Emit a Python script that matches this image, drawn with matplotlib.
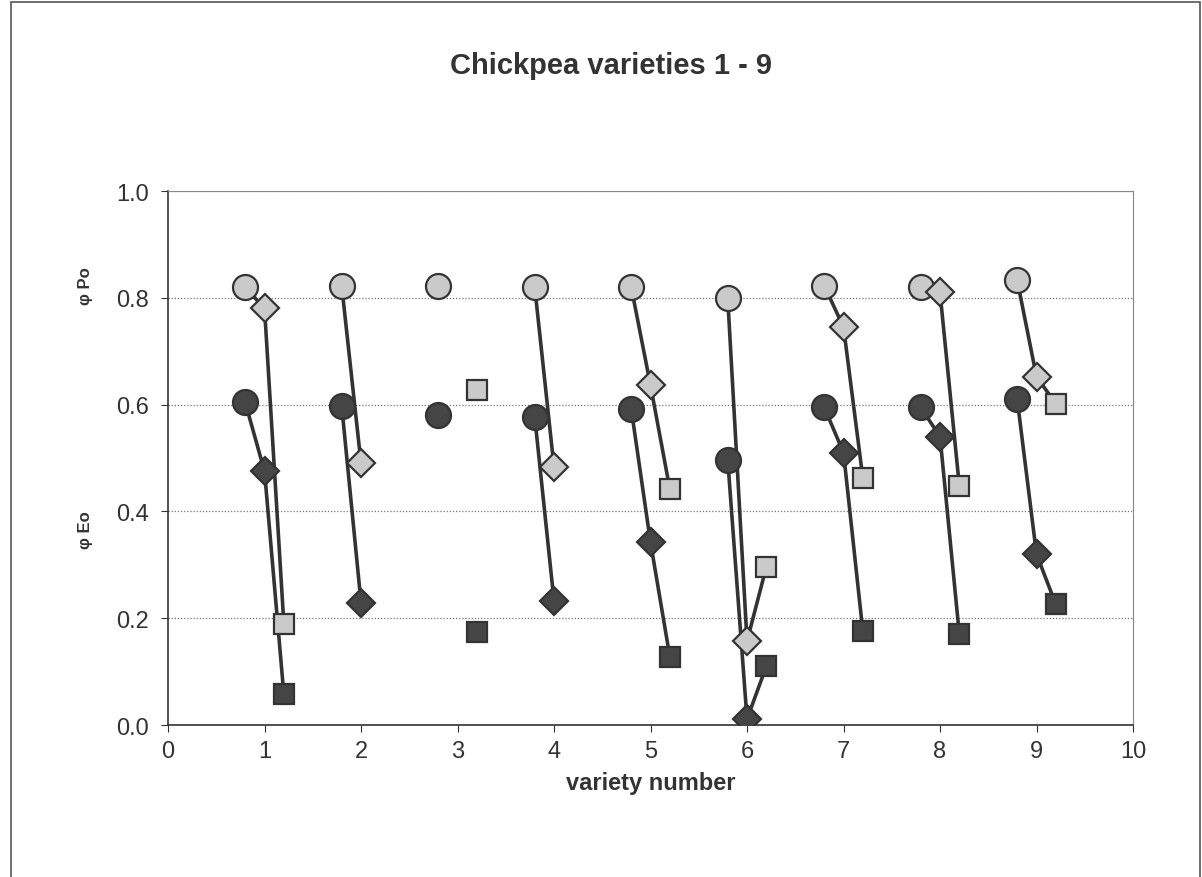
import numpy as np
import matplotlib
matplotlib.use("Agg")
import matplotlib.pyplot as plt
from matplotlib.patches import Rectangle

plt.rcParams['font.family'] = ['Liberation Sans', 'DejaVu Sans']

#variety numbers
varieties = [1, 2, 3, 4, 5, 6, 7, 8, 9]

#phi Po values (light markers): circle, diamond, square
po_circle = [0.82, 0.822, 0.822, 0.82, 0.82, 0.80, 0.823, 0.82, 0.833]
po_diamond = [0.78, 0.49, np.nan, 0.483, 0.636, 0.157, 0.745, 0.81, 0.652]
po_square = [0.19, np.nan, 0.628, np.nan, 0.442, 0.296, 0.463, 0.448, 0.602]

#phi Eo values (dark markers): circle, diamond, square
eo_circle = [0.604, 0.597, 0.58, 0.577, 0.592, 0.497, 0.595, 0.595, 0.61]
eo_diamond = [0.475, 0.229, np.nan, 0.232, 0.342, 0.011, 0.51, 0.54, 0.32]
eo_square = [0.058, np.nan, 0.174, np.nan, 0.128, 0.11, 0.176, 0.17, 0.226]

#x offsets for circle, diamond, square
offsets = [-0.2, 0.0, 0.2]

xticks = list(range(0, 11))
yticks = [0.0, 0.2, 0.4, 0.6, 0.8, 1.0]

fig = plt.figure(figsize=(12.02, 8.78), dpi=100)
ax = fig.add_axes([0.1398, 0.1731, 0.8028, 0.6082])

line_col = '#333333'
light_fill = '#cacaca'
dark_fill = '#454545'


def draw_group(circ, diam, sq, fill):
    for i, v in enumerate(varieties):
        xs = [v + o for o in offsets]
        ys = [circ[i], diam[i], sq[i]]
        #connect only when the diamond is there
        pts = [(x, y) for x, y in zip(xs, ys) if not np.isnan(y)]
        if len(pts) > 1 and not np.isnan(diam[i]):
            ax.plot([p[0] for p in pts], [p[1] for p in pts], color=line_col,
                    lw=2.6, zorder=2, solid_capstyle='butt')
        ax.plot(xs[0], ys[0], marker='o', ms=18, mfc=fill, mec=line_col,
                mew=1.6, ls='none', zorder=3)
        ax.plot(xs[1], ys[1], marker='D', ms=14, mfc=fill, mec=line_col,
                mew=1.6, ls='none', zorder=3)
        ax.plot(xs[2], ys[2], marker='s', ms=15, mfc=fill, mec=line_col,
                mew=1.6, ls='none', zorder=3)


draw_group(eo_circle, eo_diamond, eo_square, dark_fill)
draw_group(po_circle, po_diamond, po_square, light_fill)

ax.set_xlim(0, 10)
ax.set_ylim(0, 1.0)
ax.set_xticks(xticks)
ax.set_yticks(yticks)
ax.set_yticklabels(['%.1f' % y for y in yticks])
ax.tick_params(axis='both', labelsize=17, colors='#333333', direction='out',
               length=5, width=0.8)
ax.tick_params(axis='x', pad=6)
ax.tick_params(axis='y', pad=9)
ax.yaxis.grid(True, ls=(0, (1, 1.5)), color='#777777', lw=0.9)
ax.set_axisbelow(True)
for side in ['top', 'right']:
    ax.spines[side].set_color('#888888')
    ax.spines[side].set_linewidth(0.8)
for side in ['left', 'bottom']:
    ax.spines[side].set_color('#333333')
    ax.spines[side].set_linewidth(1.2)

ax.set_xlabel('variety number', fontsize=17, fontweight='bold', color='#333333',
              labelpad=6)

fig.text(0.508, 1 - 66 / 878, 'Chickpea varieties 1 - 9', ha='center', va='center',
         fontsize=21, fontweight='bold', color='#333333')

#two y labels
fig.text(0.071, 1 - 286 / 878, '\u03c6 Po', rotation=90, ha='center', va='center',
         fontsize=12, fontweight='bold', color='#333333')
fig.text(0.071, 1 - 530 / 878, '\u03c6 Eo', rotation=90, ha='center', va='center',
         fontsize=12, fontweight='bold', color='#333333')

#outer chart frame
fig.patches.append(Rectangle((0.009, -0.01), 0.989, 1.007, transform=fig.transFigure,
                             fill=False, ec='#555555', lw=1.2))

fig.savefig('out.png', dpi=100)
